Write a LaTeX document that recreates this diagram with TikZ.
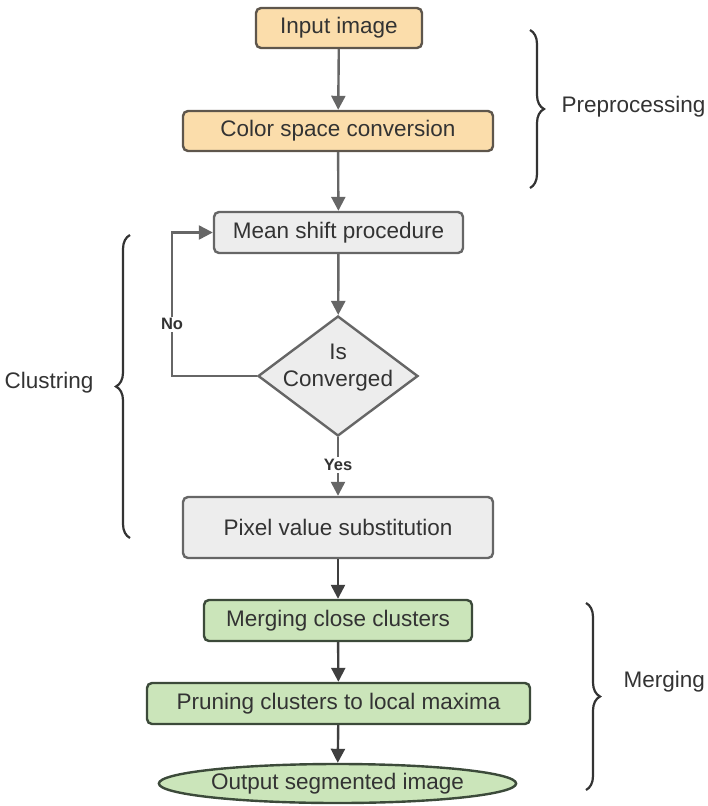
\documentclass[tikz,border=0pt]{standalone}
\usepackage{fontspec}
\setmainfont{Liberation Sans}
\usetikzlibrary{arrows.meta,shapes.geometric,decorations.pathreplacing}

\definecolor{txt}{HTML}{333333}
\definecolor{orangefill}{HTML}{FBDDAB}
\definecolor{orangeline}{HTML}{5E564C}
\definecolor{grayfill}{HTML}{EDEDED}
\definecolor{grayline}{HTML}{666666}
\definecolor{greenfill}{HTML}{CBE5BA}
\definecolor{greenline}{HTML}{3C4A3A}
\definecolor{arrowgray}{HTML}{666666}
\definecolor{arrowdark}{HTML}{3F3F3F}

\tikzset{
  basebox/.style={rectangle, rounded corners=5pt, line width=2.4pt, inner sep=0pt,
    text=txt, font=\fontsize{22.5}{27}\selectfont},
  prebox/.style={basebox, draw=orangeline, fill=orangefill},
  clubox/.style={basebox, draw=grayline, fill=grayfill},
  mrgbox/.style={basebox, draw=greenline, fill=greenfill},
  flow/.style={line width=2.4pt, draw=arrowgray, -{Triangle[length=14pt,width=14pt]}},
  flowdark/.style={flow, draw=arrowdark},
  tag/.style={font=\bfseries\fontsize{16.5}{20}\selectfont, text=txt, fill=white, inner sep=2pt},
  grouplabel/.style={font=\fontsize{22.5}{27}\selectfont, text=txt},
  groupbrace/.style={line width=2.2pt, draw=txt, decorate,
    decoration={brace, amplitude=14pt}},
}

\begin{document}
\begin{tikzpicture}[x=1pt, y=-1pt]
  \useasboundingbox (0,0) rectangle (707,806);

  % preprocessing steps
  \node[prebox, minimum width=166pt, minimum height=40pt] (input) at (339,28) {Input image};
  \node[prebox, minimum width=310pt, minimum height=40pt] (csc) at (338,131) {Color space conversion};

  % clustering loop
  \node[clubox, minimum width=249pt, minimum height=41pt] (mean) at (338.5,232.5) {Mean shift procedure};
  \node[diamond, draw=grayline, fill=grayfill, line width=2.4pt, inner sep=0pt,
        minimum width=160pt, minimum height=120pt] (conv) at (338,376) {};
  \node[align=center, text=txt, font=\fontsize{22.5}{27}\selectfont, inner sep=0pt]
        (convtext) at (338,368) {Is\\Converged};
  \node[clubox, minimum width=310pt, minimum height=61pt] (pixel) at (338,527.5) {Pixel value substitution};

  % merging steps
  \node[mrgbox, minimum width=268pt, minimum height=41pt] (merge) at (338,620.5) {Merging close clusters};
  \node[mrgbox, minimum width=383pt, minimum height=41pt] (prune) at (338.5,703.5) {Pruning clusters to local maxima};
  \node[ellipse, draw=greenline, fill=greenfill, line width=2.4pt, inner sep=0pt,
        text=txt, font=\fontsize{22.5}{27}\selectfont,
        minimum width=331pt, minimum height=39pt] (output) at (337.5,783.5) {Output segmented image};

  % connectors
  \draw[flow] (input) -- (csc);
  \draw[flow] (csc) -- (mean);
  \draw[flow] (mean) -- (conv);
  \draw[flow] (conv.south) -- node[tag, pos=0.47] (yes) {Yes} (pixel.north);
  \coordinate (loopbottom) at (172,376);
  \coordinate (looptop) at (172,232.5);
  \draw[flow] (conv.west) -- (loopbottom) -- node[tag, pos=0.36] (no) {No} (looptop) -- (mean.west);
  \draw[flowdark] (pixel) -- (merge);
  \draw[flowdark] (merge) -- (prune);
  \draw[flowdark] (prune) -- (output);

  % group braces
  \coordinate (pretop) at (530,30);
  \coordinate (prebot) at (530,188);
  \draw[groupbrace] (pretop) -- (prebot);
  \node[grouplabel, anchor=west] (prelabel) at (558,107) {Preprocessing};

  \coordinate (clutop) at (130,235);
  \coordinate (clubot) at (130,538);
  \draw[groupbrace] (clubot) -- (clutop);
  \node[grouplabel, anchor=east] (clulabel) at (97,383) {Clustring};

  \coordinate (mrgtop) at (586,603);
  \coordinate (mrgbot) at (586,790);
  \draw[groupbrace] (mrgtop) -- (mrgbot);
  \node[grouplabel, anchor=west] (mrglabel) at (620,682) {Merging};
\end{tikzpicture}
\end{document}
